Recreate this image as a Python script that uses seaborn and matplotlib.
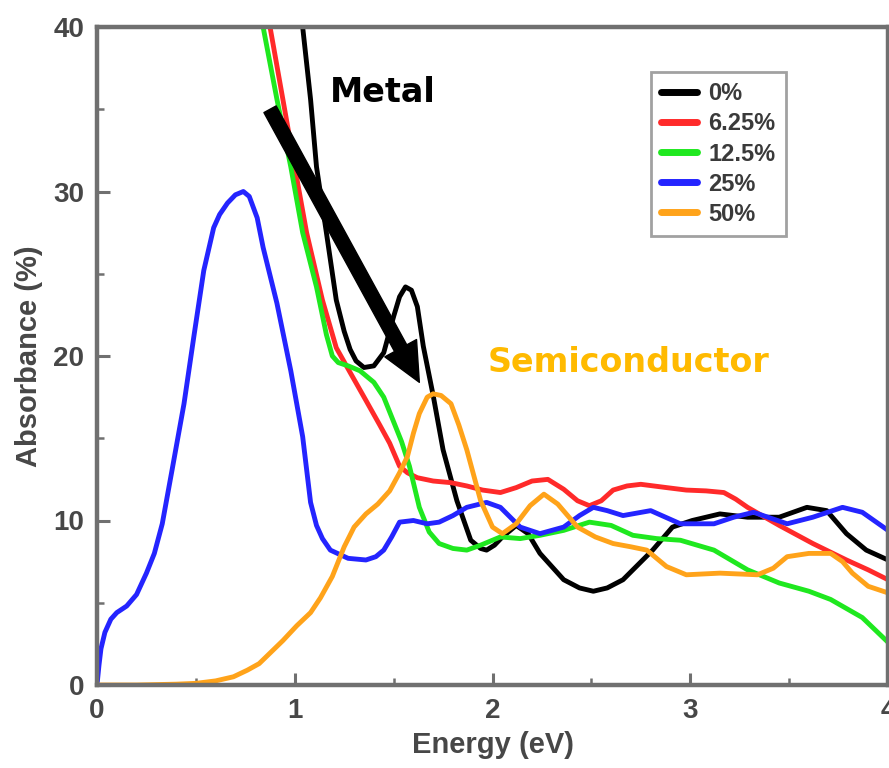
import matplotlib
matplotlib.use("Agg")
import matplotlib.pyplot as plt
from matplotlib.lines import Line2D
from matplotlib.ticker import MultipleLocator
import pandas as pd
import seaborn as sns

# Doping levels and their line colours
doping_labels = ["0%", "6.25%", "12.5%", "25%", "50%"]
doping_colors = ["#000000", "#FF2A2A", "#1FE81F", "#2424FF", "#FFA31A"]

# Absorbance spectra (energy in eV, absorbance in %)
energy_0 = [0.99, 1.04, 1.08, 1.11, 1.16, 1.21, 1.25, 1.28, 1.31, 1.35, 1.40, 1.45,
            1.50, 1.53, 1.56, 1.59, 1.62, 1.65, 1.70, 1.75, 1.82, 1.89, 1.94, 1.97,
            2.01, 2.05, 2.12, 2.18, 2.24, 2.36, 2.44, 2.51, 2.58, 2.66, 2.81, 2.91,
            3.01, 3.15, 3.29, 3.45, 3.59, 3.69, 3.79, 3.89, 4.00]
absorb_0 = [45.5, 40.0, 35.6, 31.5, 27.5, 23.4, 21.5, 20.4, 19.7, 19.3, 19.4, 20.2,
            22.4, 23.6, 24.2, 24.0, 23.0, 20.6, 17.6, 14.3, 11.2, 8.8, 8.3, 8.2,
            8.5, 9.0, 9.7, 9.2, 8.0, 6.4, 5.9, 5.7, 5.9, 6.4, 8.2, 9.6,
            10.0, 10.4, 10.2, 10.2, 10.8, 10.6, 9.2, 8.2, 7.6]

energy_625 = [0.80, 0.875, 0.94, 1.00, 1.06, 1.14, 1.21, 1.28, 1.36, 1.43, 1.48, 1.53,
              1.57, 1.62, 1.70, 1.79, 1.87, 1.95, 2.04, 2.12, 2.20, 2.28, 2.36, 2.43,
              2.49, 2.55, 2.61, 2.68, 2.75, 2.88, 2.98, 3.08, 3.17, 3.23, 3.29, 3.45,
              3.62, 3.79, 3.90, 4.00]
absorb_625 = [44.0, 40.0, 35.6, 31.5, 27.5, 23.4, 20.5, 19.0, 17.3, 15.8, 14.7, 13.3,
              12.9, 12.6, 12.4, 12.3, 12.1, 11.85, 11.7, 12.0, 12.4, 12.5, 11.9, 11.2,
              10.9, 11.2, 11.85, 12.1, 12.2, 12.0, 11.85, 11.8, 11.7, 11.3, 10.8, 9.7,
              8.6, 7.6, 7.0, 6.4]

energy_125 = [0.78, 0.84, 0.91, 0.98, 1.04, 1.11, 1.16, 1.19, 1.22, 1.27, 1.33, 1.40,
              1.45, 1.50, 1.54, 1.58, 1.63, 1.68, 1.73, 1.80, 1.87, 1.94, 2.04, 2.14,
              2.24, 2.36, 2.49, 2.60, 2.71, 2.83, 2.95, 3.12, 3.29, 3.45, 3.60, 3.71,
              3.87, 4.00]
absorb_125 = [44.0, 40.0, 35.6, 31.5, 27.5, 24.2, 21.3, 20.0, 19.6, 19.4, 19.1, 18.4,
              17.5, 16.0, 14.8, 13.3, 10.8, 9.3, 8.6, 8.3, 8.2, 8.5, 9.0, 8.9,
              9.1, 9.4, 9.9, 9.7, 9.1, 8.9, 8.8, 8.2, 7.0, 6.2, 5.7, 5.2,
              4.1, 2.6]

energy_25 = [0.00, 0.01, 0.02, 0.04, 0.07, 0.10, 0.15, 0.20, 0.25, 0.29, 0.33, 0.38,
             0.44, 0.49, 0.54, 0.59, 0.62, 0.66, 0.70, 0.74, 0.77, 0.81, 0.84, 0.91,
             0.98, 1.04, 1.08, 1.11, 1.14, 1.18, 1.27, 1.36, 1.41, 1.45, 1.49, 1.53,
             1.60, 1.67, 1.73, 1.80, 1.87, 1.97, 2.04, 2.09, 2.14, 2.24, 2.36, 2.44,
             2.51, 2.58, 2.66, 2.80, 2.95, 3.12, 3.22, 3.32, 3.49, 3.62, 3.77, 3.87,
             4.00]
absorb_25 = [0.0, 1.2, 2.2, 3.2, 4.0, 4.4, 4.8, 5.5, 6.8, 8.0, 9.8, 13.1,
             17.1, 21.2, 25.2, 27.8, 28.6, 29.3, 29.8, 30.0, 29.7, 28.4, 26.6, 23.2,
             19.1, 15.1, 11.1, 9.7, 8.9, 8.2, 7.7, 7.6, 7.8, 8.2, 9.0, 9.9,
             10.0, 9.8, 9.9, 10.3, 10.8, 11.1, 10.8, 10.2, 9.6, 9.2, 9.6, 10.3,
             10.8, 10.6, 10.3, 10.6, 9.8, 9.8, 10.2, 10.5, 9.8, 10.2, 10.8, 10.5,
             9.4]

energy_50 = [0.00, 0.20, 0.40, 0.50, 0.60, 0.69, 0.76, 0.82, 0.88, 0.94, 1.01, 1.08,
             1.13, 1.19, 1.25, 1.30, 1.36, 1.42, 1.48, 1.53, 1.57, 1.60, 1.63, 1.67,
             1.70, 1.74, 1.79, 1.83, 1.87, 1.94, 2.00, 2.05, 2.12, 2.19, 2.26, 2.33,
             2.43, 2.52, 2.61, 2.70, 2.78, 2.88, 2.98, 3.15, 3.34, 3.42, 3.49, 3.60,
             3.71, 3.77, 3.82, 3.90, 4.00]
absorb_50 = [0.0, 0.0, 0.05, 0.1, 0.25, 0.5, 0.9, 1.3, 2.0, 2.7, 3.6, 4.4,
             5.3, 6.6, 8.4, 9.6, 10.4, 11.0, 11.8, 12.9, 13.9, 15.3, 16.5, 17.5,
             17.7, 17.6, 17.1, 15.8, 14.3, 11.2, 9.6, 9.2, 9.8, 10.9, 11.6, 11.0,
             9.6, 9.0, 8.6, 8.4, 8.2, 7.2, 6.7, 6.8, 6.7, 7.1, 7.8, 8.0,
             8.0, 7.5, 6.8, 6.0, 5.6]

energies = [energy_0, energy_625, energy_125, energy_25, energy_50]
absorbances = [absorb_0, absorb_625, absorb_125, absorb_25, absorb_50]

x_ticks = [0, 1, 2, 3, 4]
y_ticks = [0, 10, 20, 30, 40]

df = pd.concat(
    [pd.DataFrame({"Energy": e, "Absorbance": a, "Doping": lab})
     for lab, e, a in zip(doping_labels, energies, absorbances)],
    ignore_index=True,
)

sns.set_theme(style="white")
plt.rcParams["font.family"] = ["Liberation Sans Narrow", "Liberation Sans", "DejaVu Sans"]

axis_grey = "#707070"
text_grey = "#474747"

fig = plt.figure(figsize=(8.89, 7.68), dpi=100)
ax = fig.add_axes([97 / 889, 83 / 768, 791 / 889, 658 / 768])

palette = dict(zip(doping_labels, doping_colors))
sns.lineplot(data=df, x="Energy", y="Absorbance", hue="Doping",
             hue_order=doping_labels, palette=palette, estimator=None,
             sort=False, linewidth=3.5, legend=False, ax=ax,
             solid_joinstyle="round", solid_capstyle="round")

ax.set_xlim(0, 4)
ax.set_ylim(0, 40)
ax.set_xticks(x_ticks)
ax.set_yticks(y_ticks)
ax.set_xticklabels([str(v) for v in x_ticks])
ax.set_yticklabels([str(v) for v in y_ticks])
ax.xaxis.set_minor_locator(MultipleLocator(0.5))
ax.yaxis.set_minor_locator(MultipleLocator(5))
ax.tick_params(which="major", direction="in", length=9, width=2.2,
               color=axis_grey, labelsize=20, labelcolor=text_grey, pad=9,
               bottom=True, left=True, top=False, right=False)
ax.tick_params(which="minor", direction="in", length=5, width=1.8,
               color=axis_grey, bottom=True, left=True, top=False, right=False)
for lab in ax.get_xticklabels() + ax.get_yticklabels():
    lab.set_fontweight("bold")

for side, sp in ax.spines.items():
    sp.set_color(axis_grey)
    sp.set_linewidth(3.2)

ax.set_xlabel("Energy (eV)", fontsize=21, fontweight="bold", color=text_grey)
ax.set_ylabel("Absorbance (%)", fontsize=21, fontweight="bold", color=text_grey)
ax.xaxis.set_label_coords(0.5, -0.07)
ax.yaxis.set_label_coords(-0.068, 0.5)

handles = [Line2D([0], [0], color=c, linewidth=5) for c in doping_colors]
leg = ax.legend(handles, doping_labels, loc="upper left",
                bbox_to_anchor=(0.70, 0.932), frameon=True, fancybox=False,
                edgecolor="#8a8a8a", fontsize=17, handlelength=1.5,
                handletextpad=0.5, labelspacing=0.3, borderpad=0.45,
                borderaxespad=0)
leg.get_frame().set_linewidth(2)
for t in leg.get_texts():
    t.set_color("#3a3a3a")
    t.set_fontweight("bold")

# Arrow from metallic to semiconducting behaviour
arrow_tail = (0.875, 35.0)
arrow_head = (1.63, 18.4)
ax.annotate("", xy=arrow_head, xytext=arrow_tail,
            arrowprops=dict(facecolor="black", edgecolor="black", width=10,
                            headwidth=26, headlength=28, shrink=0),
            zorder=10)

ax.text(1.446, 36.0, "Metal", ha="center", va="center", fontsize=24,
        fontweight="bold", color="black", family="DejaVu Sans", zorder=11)
ax.text(2.69, 19.6, "Semiconductor", ha="center", va="center", fontsize=24,
        fontweight="bold", color="#FFBA00", family="DejaVu Sans", zorder=11)

fig.savefig("out.png", dpi=100)
